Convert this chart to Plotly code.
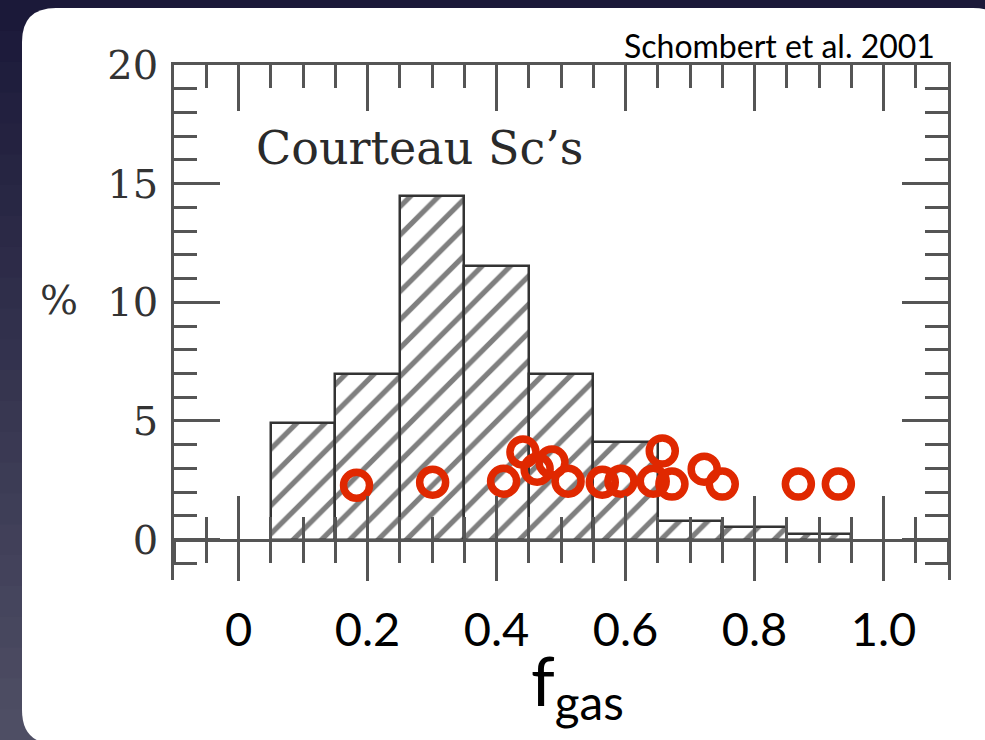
import plotly.graph_objects as go

# ---- data ----
bin_centers = [0.1, 0.2, 0.3, 0.4, 0.5, 0.6, 0.7, 0.8, 0.9]
bin_percent = [4.9, 7.0, 14.5, 11.55, 7.0, 4.1, 0.8, 0.55, 0.25]
bin_width = 0.1

fgas_points = [0.183, 0.301, 0.411, 0.441, 0.463, 0.486, 0.511, 0.564,
               0.593, 0.643, 0.657, 0.672, 0.722, 0.750, 0.868, 0.930]
pct_points = [2.29, 2.42, 2.46, 3.69, 2.97, 3.27, 2.46, 2.42,
              2.46, 2.46, 3.74, 2.34, 2.97, 2.34, 2.34, 2.34]

x_tick_values = [0.0, 0.2, 0.4, 0.6, 0.8, 1.0]
x_tick_labels = ["0", "0.2", "0.4", "0.6", "0.8", "1.0"]
y_tick_values = [0, 5, 10, 15, 20]
y_tick_labels = ["0", "5", "10", "15", "20"]

X_RANGE = [-0.1, 1.1]
Y_RANGE = [-1.7, 20]

# ---- layout geometry (pixels) ----
W, H = 985, 740
ML, MR, MT, MB = 174, 37, 65, 160
PW, PH = W - ML - MR, H - MT - MB


def px(xp):
    return (xp - ML) / PW


def py(yp):
    return (H - MB - yp) / PH


AX = "#555555"
RED = "#e02800"
SERIF = "DejaVu Serif"
SANS = "Lato"

fig = go.Figure()

fig.add_trace(go.Bar(
    x=bin_centers, y=bin_percent, width=bin_width,
    marker=dict(color="white",
                line=dict(color="#333333", width=2.5),
                pattern=dict(shape="/", fgcolor="#000000", bgcolor="white",
                             size=20, solidity=0.26)),
    hoverinfo="skip", xaxis="x", yaxis="y"))

fig.add_trace(go.Scatter(
    x=fgas_points, y=pct_points, mode="markers",
    marker=dict(symbol="circle-open", size=26, color=RED,
                line=dict(color=RED, width=7.5)),
    cliponaxis=False, hoverinfo="skip", xaxis="x", yaxis="y"))

# helper traces so the extra frame axes are drawn
fig.add_trace(go.Scatter(x=[None], y=[None], xaxis="x2", yaxis="y2",
                         mode="markers", hoverinfo="skip"))
fig.add_trace(go.Scatter(x=[None], y=[None], xaxis="x3", yaxis="y",
                         mode="markers", hoverinfo="skip"))

zero_pos = (0 - Y_RANGE[0]) / (Y_RANGE[1] - Y_RANGE[0])

common_x = dict(range=X_RANGE, showgrid=False, zeroline=False, automargin=False,
                tickcolor=AX, tickwidth=2.5)

# ---- background: dark gradient + white rounded panel ----
shapes = []
top_c = (27, 25, 57)
bot_c = (78, 78, 100)
n = 24
for i in range(n):
    t = i / (n - 1)
    c = tuple(int(round(top_c[k] + (bot_c[k] - top_c[k]) * t)) for k in range(3))
    y0 = H * i / n
    y1 = H * (i + 1) / n + 1
    shapes.append(dict(type="rect", xref="paper", yref="paper", layer="below",
                       x0=px(-5), x1=px(W + 5), y0=py(y1), y1=py(y0),
                       line=dict(width=0), fillcolor="rgb(%d,%d,%d)" % c))

L, T, R, B, r = 22, 8, 1007, 744, 34


def P(xp, yp):
    return "%.5f,%.5f" % (px(xp), py(yp))


path = ("M" + P(L + r, T) + " L" + P(R - r, T) + " Q" + P(R, T) + " " + P(R, T + r) +
        " L" + P(R, B - r) + " Q" + P(R, B) + " " + P(R - r, B) +
        " L" + P(L + r, B) + " Q" + P(L, B) + " " + P(L, B - r) +
        " L" + P(L, T + r) + " Q" + P(L, T) + " " + P(L + r, T) + " Z")
shapes.append(dict(type="path", xref="paper", yref="paper", layer="below",
                   path=path, fillcolor="white", line=dict(width=0)))

fig.update_layout(
    width=W, height=H,
    margin=dict(l=ML, r=MR, t=MT, b=MB, autoexpand=False),
    paper_bgcolor="rgb(40,38,70)", plot_bgcolor="rgba(0,0,0,0)",
    showlegend=False, shapes=shapes,
    xaxis=dict(**common_x, anchor="free", position=zero_pos, side="bottom",
               showline=True, linecolor=AX, linewidth=2.5,
               ticks="inside", ticklen=43, tickmode="array", tickvals=x_tick_values,
               minor=dict(ticks="inside", ticklen=22, tickmode="linear", tick0=0,
                          dtick=0.05, tickcolor=AX, tickwidth=2.5),
               showticklabels=False),
    xaxis3=dict(**common_x, overlaying="x", anchor="free", position=zero_pos,
                side="bottom", showline=False,
                ticks="outside", ticklen=40, tickmode="array",
                tickvals=x_tick_values, ticktext=x_tick_labels,
                minor=dict(ticks="outside", ticklen=22, tickmode="linear", tick0=0,
                           dtick=0.05, tickcolor=AX, tickwidth=2.5),
                showticklabels=True, ticklabelstandoff=9,
                tickfont=dict(family=SANS, size=47, color="black")),
    xaxis2=dict(**common_x, overlaying="x", anchor="y2", side="top",
                showline=True, linecolor=AX, linewidth=2.5,
                ticks="inside", ticklen=46, tickmode="array", tickvals=x_tick_values,
                minor=dict(ticks="inside", ticklen=23, tickmode="linear", tick0=0,
                           dtick=0.05, tickcolor=AX, tickwidth=2.5),
                showticklabels=False),
    yaxis=dict(range=Y_RANGE, showgrid=False, zeroline=False, automargin=False,
               side="left", anchor="x",
               showline=True, linecolor=AX, linewidth=2.5,
               ticks="inside", ticklen=46, tickcolor=AX, tickwidth=2.5,
               tickmode="array", tickvals=y_tick_values, ticktext=y_tick_labels,
               minor=dict(ticks="inside", ticklen=23, tickmode="linear", tick0=0,
                          dtick=1, tickcolor=AX, tickwidth=2.5),
               ticklabelstandoff=5,
               tickfont=dict(family=SERIF, size=40, color="#333333")),
    yaxis2=dict(range=Y_RANGE, showgrid=False, zeroline=False, automargin=False,
                overlaying="y", side="right", anchor="x2",
                showline=True, linecolor=AX, linewidth=2.5,
                ticks="inside", ticklen=46, tickcolor=AX, tickwidth=2.5,
                tickmode="array", tickvals=y_tick_values,
                minor=dict(ticks="inside", ticklen=23, tickmode="linear", tick0=0,
                           dtick=1, tickcolor=AX, tickwidth=2.5),
                showticklabels=False),
    bargap=0,
)

fig.add_annotation(text="Courteau Sc’s", xref="x", yref="y", x=0.024, y=16.5,
                   xanchor="left", yanchor="middle", showarrow=False,
                   font=dict(family=SERIF, size=46, color="#2a2a2a"))
fig.add_annotation(text="%", xref="paper", yref="y", x=px(59), y=10.1,
                   xanchor="center", yanchor="middle", showarrow=False,
                   font=dict(family=SERIF, size=40, color="#333333"))
fig.add_annotation(text="Schombert et al. 2001", xref="paper", yref="paper",
                   x=px(937), y=py(45), xanchor="right", yanchor="middle",
                   showarrow=False, font=dict(family=SANS, size=32, color="black"))
fig.add_annotation(text="f<sub>gas</sub>", xref="paper", yref="paper",
                   x=px(577), y=py(684), xanchor="center", yanchor="middle",
                   showarrow=False, font=dict(family=SANS, size=68, color="black"))

fig.write_html("out.html")
